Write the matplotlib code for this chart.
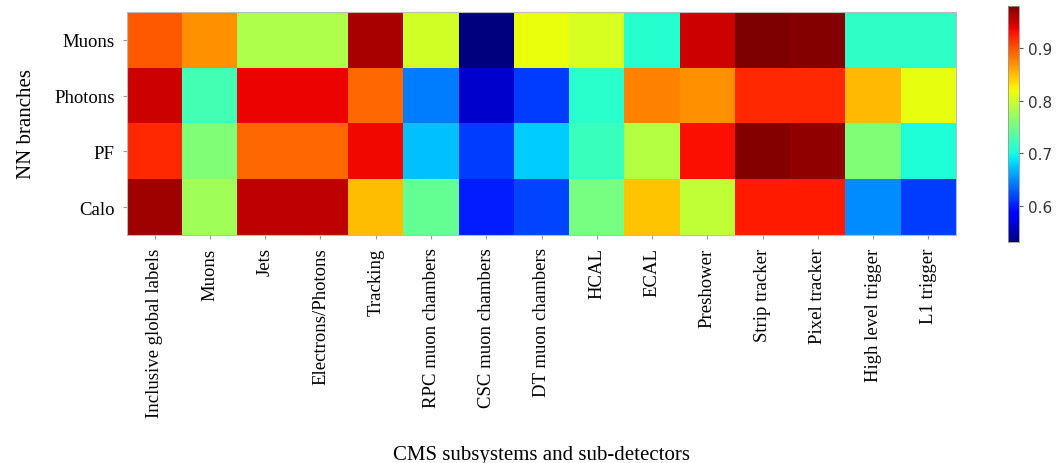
import numpy as np
import matplotlib
matplotlib.use("Agg")
import matplotlib.pyplot as plt

subsystems = ["Inclusive global labels", "Muons", "Jets", "Electrons/Photons", "Tracking",
              "RPC muon chambers", "CSC muon chambers", "DT muon chambers", "HCAL", "ECAL",
              "Preshower", "Strip tracker", "Pixel tracker", "High level trigger", "L1 trigger"]
branches = ["Muons", "Photons", "PF", "Calo"]

muons_row   = [0.897, 0.870, 0.783, 0.783, 0.963, 0.802, 0.531, 0.816, 0.805, 0.709, 0.950, 0.980, 0.978, 0.714, 0.714]
photons_row = [0.950, 0.724, 0.937, 0.937, 0.890, 0.642, 0.561, 0.614, 0.711, 0.878, 0.870, 0.920, 0.920, 0.851, 0.814]
pf_row      = [0.920, 0.758, 0.890, 0.890, 0.935, 0.672, 0.614, 0.677, 0.719, 0.787, 0.932, 0.977, 0.972, 0.758, 0.706]
calo_row    = [0.967, 0.776, 0.954, 0.954, 0.849, 0.742, 0.601, 0.618, 0.753, 0.845, 0.794, 0.927, 0.927, 0.649, 0.614]

data = np.array([muons_row, photons_row, pf_row, calo_row])

plt.rcParams['font.family'] = ['Liberation Serif', 'DejaVu Serif']

fig = plt.figure(figsize=(10.59, 4.64), dpi=100)
ax = fig.add_axes([0.120, 0.4914, 0.7827, 0.4806])
im = ax.imshow(data, cmap='jet', aspect='auto', vmin=data.min(), vmax=data.max(),
               interpolation='nearest')
ax.set_xticks(np.arange(len(subsystems)))
ax.set_xticklabels(subsystems, rotation=90, fontsize=13.5)
ax.set_yticks(np.arange(len(branches)))
ax.set_yticklabels(branches, fontsize=13.5)
ax.tick_params(axis='both', color='#999999', length=3, width=0.8, pad=6)
for s in ax.spines.values():
    s.set_color('#bbbbbb')
    s.set_linewidth(0.8)
ax.set_xlabel("CMS subsystems and sub-detectors", fontsize=15, labelpad=20)
ax.set_ylabel("NN branches", fontsize=15, labelpad=13)

cax = fig.add_axes([0.9518, 0.4763, 0.0104, 0.5086])
cb = fig.colorbar(im, cax=cax)
cb.set_ticks([0.6, 0.7, 0.8, 0.9])
cb.ax.tick_params(labelsize=11, length=3, color='#555555')
for lab in cb.ax.get_yticklabels():
    lab.set_family('DejaVu Sans')
    lab.set_color('#333333')
cb.outline.set_edgecolor('#999999')
cb.outline.set_linewidth(0.6)

fig.savefig("out.png", dpi=100)
